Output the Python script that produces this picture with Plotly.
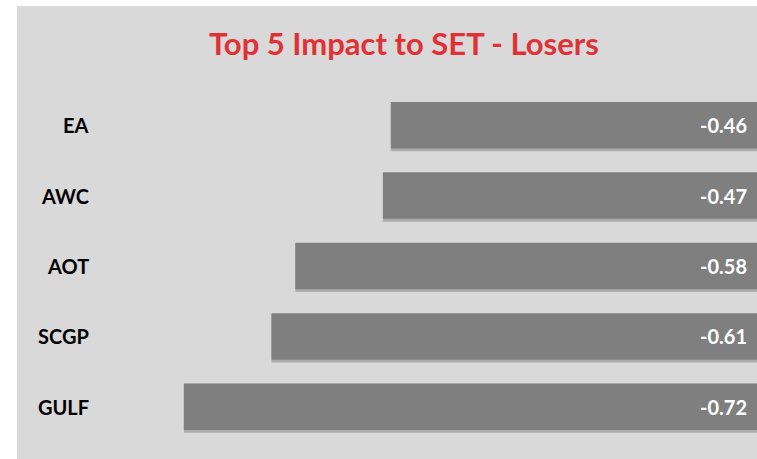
import plotly.graph_objects as go

categories = ["EA", "AWC", "AOT", "SCGP", "GULF"]
values = [-0.46, -0.47, -0.58, -0.61, -0.72]
title_text = "Top 5 Impact to SET - Losers"

W, H = 757, 459
L, R, T, B = 95, 0, 90, 17
pw = W - L - R
ph = H - T - B

BG = "#d9d9d9"
BAR = "#7f7f7f"
FONT = "Lato"

fig = go.Figure()

# subtle shadow under bars
fig.add_trace(go.Bar(
    y=categories, x=values, orientation="h",
    marker=dict(color="rgba(90,90,90,0.35)", line=dict(width=0)),
    offset=-0.31, width=0.68, hoverinfo="skip", showlegend=False,
))
fig.add_trace(go.Bar(
    y=categories, x=values, orientation="h",
    marker=dict(color=BAR, line=dict(width=0)),
    offset=-0.33, width=0.66, showlegend=False,
))

annotations = []
for c, v in zip(categories, values):
    annotations.append(dict(
        x=0, y=c, xref="x", yref="y", text=f"<b>{v:.2f}</b>",
        showarrow=False, xanchor="right", xshift=-8,
        font=dict(family=FONT, size=20, color="white"),
    ))
    annotations.append(dict(
        x=(91 - L) / pw, y=c, xref="paper", yref="y", text=f"<b>{c}</b>",
        showarrow=False, xanchor="right",
        font=dict(family=FONT, size=20, color="black"),
    ))

annotations.append(dict(
    x=(404 - L) / pw, y=(H - B - 43) / ph, xref="paper", yref="paper",
    text=f"<b>{title_text}</b>", showarrow=False, xanchor="center", yanchor="middle",
    font=dict(family=FONT, size=31, color="#e03236"),
))

fig.update_layout(
    width=W, height=H,
    margin=dict(l=L, r=R, t=T, b=B, pad=0),
    paper_bgcolor="white",
    plot_bgcolor="rgba(0,0,0,0)",
    barmode="overlay",
    shapes=[dict(
        type="rect", xref="paper", yref="paper", layer="below",
        x0=(17 - L) / pw, x1=1.05, y0=-0.1, y1=(H - B - 6) / ph,
        fillcolor=BG, line=dict(width=0),
    )],
    xaxis=dict(range=[-(W - L - R) / 796, 0], visible=False, fixedrange=True),
    yaxis=dict(autorange="reversed", visible=False, fixedrange=True,
               categoryorder="array", categoryarray=categories),
    annotations=annotations,
)

fig.write_html("out.html", config={"displayModeBar": False},
               post_script="document.body.style.margin='0';document.body.style.overflow='hidden';")
